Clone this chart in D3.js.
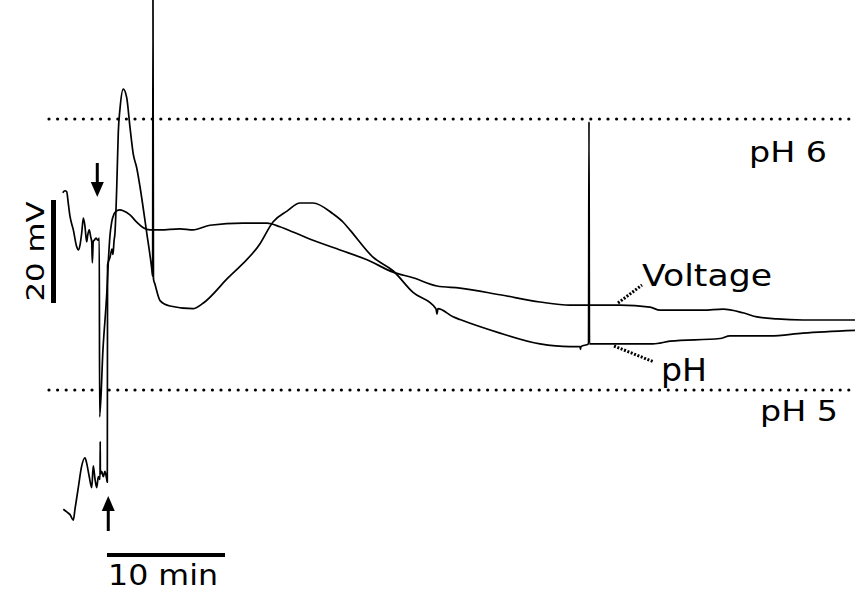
<!DOCTYPE html>
<html>
<head>
<meta charset="utf-8">
<script src="https://cdn.jsdelivr.net/npm/d3@7"></script>
<style>
  body { margin: 0; background: #fff; }
  text { font-family: "DejaVu Sans", sans-serif; fill: #000; }
</style>
</head>
<body>
<div id="chart-area"></div>
<script>
// time in minutes, voltage in mV (relative), pH in pH units
var voltTime = [0.06,0.25,0.40,0.53,0.68,0.96,1.25,1.38,1.53,1.67,1.81,1.95,2.09,2.18,2.31,2.43,2.52,2.57,2.65,2.74,2.88,3.03,3.16,3.19,3.47,3.81,3.92,4.07,4.21,4.41,4.64,4.92,5.19,5.76,6.33,6.89,7.46,8.31,10.0,11.10,12.54,15.34,17.37,18.47,19.58,21.27,23.56,25.85,28.05,29.75,31.78,33.73,37.12,40.51,43.05,47.29,49.83,50.68,54.32,56.02,57.71,58.90,60.59,62.80,67.20];
var voltValue = [24.7,25.1,24.9,22.7,20.1,17.5,14.2,13.6,14.6,16.9,19.8,18.1,15.2,16.5,17.5,16.2,15.2,11.1,15.3,15.5,15.9,15.5,15.9,-18.8,-5.8,5.8,11.1,16.5,19.0,20.6,21.2,21.4,21.2,20.4,19.0,17.9,17.5,17.5,17.7,17.5,18.4,18.8,18.8,18.1,17.1,15.5,13.6,11.7,9.3,8.2,6.6,6.2,4.9,3.5,2.9,2.9,2.5,1.9,1.9,2.1,1.4,0.6,0.2,0.0,0.0];

var phTime = [0.11,0.40,0.68,0.96,1.10,1.38,1.67,1.95,2.09,2.31,2.52,2.65,2.80,2.94,3.08,3.22,3.24,3.25,3.36,3.50,3.64,3.79,3.84,3.86,4.07,4.24,4.32,4.41,4.49,4.64,4.77,4.92,5.19,5.48,5.76,6.04,6.33,6.61,7.18,7.60,7.68,7.71,7.75,7.88,8.31,9.15,11.10,11.95,13.98,16.78,17.88,19.07,20.17,21.27,22.97,23.81,24.41,26.36,28.05,29.75,31.69,31.78,31.86,33.14,33.73,37.12,40.51,43.05,43.90,43.94,43.98,44.62,44.66,44.70,44.75,47.29,50.08,51.53,55.76,56.61,59.99,62.80,67.20];
var phValue = [4.56,4.55,4.54,4.52,4.56,4.64,4.72,4.75,4.73,4.68,4.64,4.72,4.67,4.64,4.68,4.67,4.81,4.69,4.70,4.68,4.70,4.67,4.66,5.46,5.49,5.52,5.50,5.55,5.58,5.75,5.95,6.04,6.11,6.08,5.97,5.87,5.82,5.75,5.58,5.45,5.42,6.44,5.41,5.39,5.33,5.31,5.30,5.32,5.41,5.54,5.62,5.66,5.69,5.69,5.65,5.62,5.59,5.49,5.44,5.36,5.30,5.28,5.30,5.27,5.26,5.21,5.17,5.16,5.16,5.15,5.16,5.17,5.99,5.17,5.17,5.17,5.17,5.18,5.19,5.20,5.20,5.21,5.22];

var phLevels = [6, 5];
var phLevelLabels = ["pH 6", "pH 5"];
var arrowTimes = [2.99, 3.92];   // solution change marks
var scaleBarMv = 20;
var scaleBarMin = 10;

var width = 858;
var height = 598;

var svg = d3.select("#chart-area").append("svg")
    .attr("width", width)
    .attr("height", height);

svg.append("rect")
    .attr("width", width)
    .attr("height", height)
    .attr("fill", "#fff");

var x = d3.scaleLinear()
    .domain([0, 10])
    .range([62, 180]);

var yPh = d3.scaleLinear()
    .domain([5, 6])
    .range([390, 119]);

var yVolt = d3.scaleLinear()
    .domain([0, 20])
    .range([320, 217]);

var voltData = voltTime.map((t, i) => { return {t: t, v: voltValue[i]}; });
var phData = phTime.map((t, i) => { return {t: t, v: phValue[i]}; });

// dotted pH reference lines
svg.selectAll(".ref")
    .data(phLevels)
    .enter().append("line")
    .attr("class", "ref")
    .attr("x1", 49)
    .attr("x2", 854)
    .attr("y1", (d) => yPh(d))
    .attr("y2", (d) => yPh(d))
    .attr("stroke", "#000")
    .attr("stroke-width", 3.2)
    .attr("stroke-linecap", "round")
    .attr("stroke-dasharray", "0 8.6");

var labelPos = [{x: 749, dy: 43, w: 78}, {x: 760, dy: 31, w: 78}];
svg.selectAll(".reflabel")
    .data(phLevels)
    .enter().append("text")
    .attr("class", "reflabel")
    .attr("x", (d, i) => labelPos[i].x)
    .attr("y", (d, i) => yPh(d) + labelPos[i].dy)
    .attr("font-size", "28px")
    .attr("textLength", (d, i) => labelPos[i].w)
    .attr("lengthAdjust", "spacingAndGlyphs")
    .text((d, i) => phLevelLabels[i]);

var voltLine = d3.line()
    .curve(d3.curveMonotoneX)
    .x((d) => x(d.t))
    .y((d) => yVolt(d.v));

var phLine = d3.line()
    .curve(d3.curveMonotoneX)
    .x((d) => x(d.t))
    .y((d) => yPh(d.v));

svg.append("path")
    .datum(voltData)
    .attr("d", voltLine)
    .attr("fill", "none")
    .attr("stroke", "#000")
    .attr("stroke-width", 1.7)
    .attr("stroke-linejoin", "round");

svg.append("path")
    .datum(phData)
    .attr("d", phLine)
    .attr("fill", "none")
    .attr("stroke", "#000")
    .attr("stroke-width", 1.7)
    .attr("stroke-linejoin", "round");

// arrows: down one over the upper trace, up one under the lower trace
var arrowY = [{y0: 163, y1: 197}, {y0: 531, y1: 496}];
arrowTimes.forEach((t, i) => {
    var ax = x(t);
    var a = arrowY[i];
    var dir = a.y1 > a.y0 ? 1 : -1;
    svg.append("line")
        .attr("x1", ax).attr("x2", ax)
        .attr("y1", a.y0).attr("y2", a.y1 - dir * 10)
        .attr("stroke", "#000")
        .attr("stroke-width", 3);
    svg.append("path")
        .attr("d", "M" + (ax - 6.5) + "," + (a.y1 - dir * 15) +
                   "L" + (ax + 6.5) + "," + (a.y1 - dir * 15) +
                   "L" + ax + "," + a.y1 + "Z")
        .attr("fill", "#000");
});

// leader lines for trace labels
svg.append("line")
    .attr("x1", 618).attr("y1", 303)
    .attr("x2", 642).attr("y2", 285)
    .attr("stroke", "#000")
    .attr("stroke-width", 3)
    .attr("stroke-dasharray", "2 1.6");

svg.append("line")
    .attr("x1", 614).attr("y1", 346)
    .attr("x2", 654).attr("y2", 362)
    .attr("stroke", "#000")
    .attr("stroke-width", 3)
    .attr("stroke-dasharray", "2 1.6");

svg.append("text")
    .attr("x", 642)
    .attr("y", 286)
    .attr("font-size", "31px")
    .attr("textLength", 130)
    .attr("lengthAdjust", "spacingAndGlyphs")
    .text("Voltage");

svg.append("text")
    .attr("x", 661)
    .attr("y", 381)
    .attr("font-size", "32px")
    .attr("textLength", 46)
    .attr("lengthAdjust", "spacingAndGlyphs")
    .text("pH");

// scale bars
var barTop = 200;
svg.append("rect")
    .attr("x", 51)
    .attr("y", barTop)
    .attr("width", 5)
    .attr("height", yVolt(0) - yVolt(scaleBarMv))
    .attr("fill", "#000");

svg.append("text")
    .attr("transform", "translate(44," + (barTop + (yVolt(0) - yVolt(scaleBarMv)) / 2) + ") rotate(-90)")
    .attr("text-anchor", "middle")
    .attr("font-size", "25px")
    .attr("textLength", 100)
    .attr("lengthAdjust", "spacingAndGlyphs")
    .text(scaleBarMv + " mV");

var barLeft = 107;
svg.append("rect")
    .attr("x", barLeft)
    .attr("y", 553)
    .attr("width", x(scaleBarMin) - x(0))
    .attr("height", 4)
    .attr("fill", "#000");

svg.append("text")
    .attr("x", barLeft + 1)
    .attr("y", 585)
    .attr("font-size", "28px")
    .attr("textLength", 110)
    .attr("lengthAdjust", "spacingAndGlyphs")
    .text(scaleBarMin + " min");
</script>
</body>
</html>
